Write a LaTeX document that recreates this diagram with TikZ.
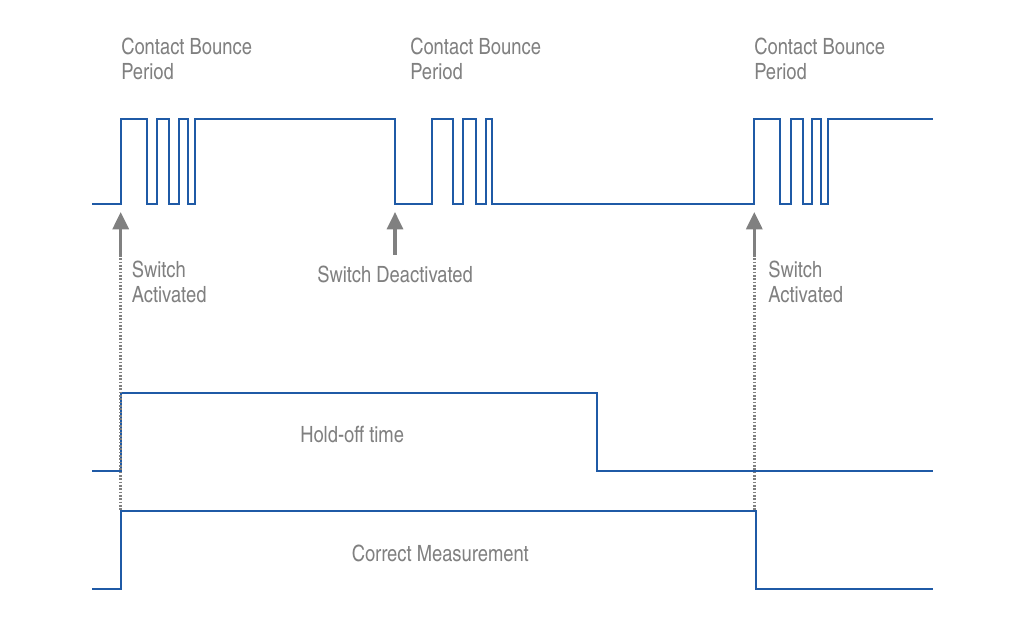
\documentclass[tikz,border=0pt]{standalone}
\usepackage{fontspec}
\setmainfont{texgyreheroscn}[Extension=.otf, UprightFont=*-regular, BoldFont=*-bold]
\usepackage{tikz}
\usetikzlibrary{arrows.meta}
\definecolor{sigblue}{RGB}{31,90,166}
\definecolor{labgrey}{RGB}{128,128,128}
\tikzstyle{signal}=[draw=sigblue, line width=1.5pt, line join=miter]
\tikzstyle{label}=[anchor=west, inner sep=0pt, text=labgrey, align=left, font=\fontsize{16.8}{18.75}\selectfont]
\tikzstyle{trigger}=[draw=labgrey, line width=2.4pt, -{Triangle[width=12pt, length=13pt]}]
\tikzstyle{marker}=[draw=labgrey, line width=1.9pt, dash pattern=on 1.3pt off 1.2pt]

\begin{document}
\begin{tikzpicture}[x=0.75pt, y=-0.75pt]
    \useasboundingbox (0,0) rectangle (1024,627);
    \node[label] (cb1) at (121, 58.5) {Contact Bounce\\Period};
    \node[label] (cb2) at (410, 58.5) {Contact Bounce\\Period};
    \node[label] (cb3) at (754, 58.5) {Contact Bounce\\Period};
    \draw[signal] (92,204) -| (120.7,119) -| (146.7,204) -| (157.3,119) -| (169,204) -| (179.3,119)
        -| (187.7,204) -| (195,119) -| (395,204) -| (431.7,119) -| (453.3,204) -| (463.3,119)
        -| (475.7,204) -| (485.7,119) -| (491.7,204) -| (754.3,119) -| (780,204) -| (791,119)
        -| (802.7,204) -| (812.3,119) -| (821,204) -| (828.3,119) -- (932.7,119);
    \draw[signal] (92,471) -| (120.7,392.7) -| (596.7,471) -- (932.7,471);
    \draw[signal] (92,589) -| (120.7,510.7) -| (755.5,589) -- (932.7,589);
    \coordinate (on1) at (120.7,212);
    \coordinate (on1b) at (120.7,255);
    \coordinate (off) at (395,212);
    \coordinate (offb) at (395,255);
    \coordinate (on2) at (754.3,212);
    \coordinate (on2b) at (754.3,255);
    \coordinate (on1e) at (120.7,510.7);
    \coordinate (on2e) at (754.3,510.7);
    \draw[trigger] (on1b) -- (on1);
    \draw[trigger] (offb) -- (off);
    \draw[trigger] (on2b) -- (on2);
    \draw[marker] (on1b) -- (on1e);
    \draw[marker] (on2b) -- (on2e);
    \node[label] (sa1) at (131.5, 281.5) {Switch\\Activated};
    \node[label] (sd) at (317, 274.5) {Switch Deactivated};
    \node[label] (sa2) at (768, 281.5) {Switch\\Activated};
    \node[label] (hold) at (300, 434.5) {Hold-off time};
    \node[label] (meas) at (351.5, 553.5) {Correct Measurement};
\end{tikzpicture}
\end{document}
